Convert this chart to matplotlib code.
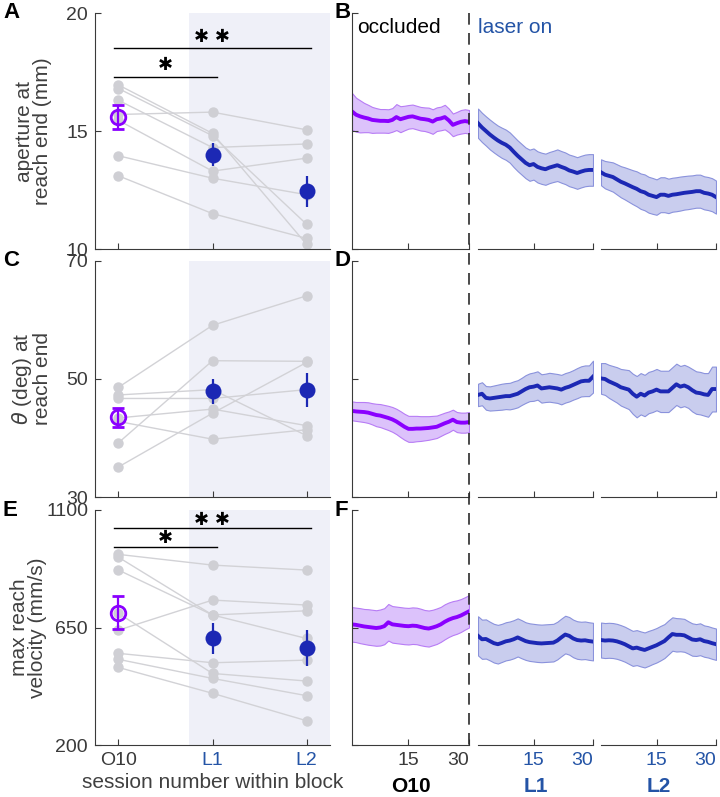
import numpy as np
import matplotlib
matplotlib.use("Agg")
import matplotlib.pyplot as plt
from matplotlib.lines import Line2D

plt.rcParams["font.family"] = ["Liberation Sans", "DejaVu Sans"]
plt.rcParams["font.size"] = 14

# ---------------- data ----------------
sessions = ["O10", "L1", "L2"]

# per-animal values, one list per session (same animal order)
aperture_o10 = [16.95, 16.8, 16.3, 15.7, 15.45, 13.95, 13.1]
aperture_l1 = [14.9, 14.8, 14.3, 15.8, 13.3, 13.0, 11.5]
aperture_l2 = [10.2, 11.05, 14.45, 15.05, 13.85, 12.3, 10.45]
aperture_mean = [15.6, 14.0, 12.45]
aperture_sem = [0.5, 0.48, 0.65]

theta_o10 = [48.6, 47.3, 46.7, 43.4, 42.8, 39.2, 35.1]
theta_l1 = [59.1, 48.2, 46.7, 44.9, 39.8, 53.1, 44.2]
theta_l2 = [64.1, 40.4, 48.2, 42.1, 41.4, 53.0, 52.8]
theta_mean = [43.5, 47.9, 48.2]
theta_sem = [1.6, 2.1, 2.9]

velocity_o10 = [930, 919, 870, 640, 704, 551, 528, 497]
velocity_l1 = [889, 698, 698, 755, 474, 515, 455, 398]
velocity_l2 = [870, 608, 714, 736, 445, 525, 389, 293]
velocity_mean = [707, 608, 572]
velocity_sem = [64, 60, 68]

# trial-by-trial traces within a session (mean and band half-width)
trial = list(range(1, 31))

ap_trace_o10 = [15.83, 15.69, 15.62, 15.57, 15.53, 15.47, 15.45, 15.43, 15.43, 15.42,
                15.47, 15.59, 15.50, 15.55, 15.60, 15.62, 15.57, 15.52, 15.50, 15.47,
                15.40, 15.50, 15.53, 15.59, 15.45, 15.26, 15.33, 15.39, 15.42, 15.39]
ap_band_o10 = [0.78, 0.72, 0.68, 0.62, 0.58, 0.55, 0.52, 0.50, 0.50, 0.50,
               0.50, 0.55, 0.55, 0.52, 0.50, 0.50, 0.50, 0.50, 0.50, 0.52,
               0.52, 0.50, 0.50, 0.52, 0.50, 0.48, 0.48, 0.50, 0.50, 0.50]
ap_trace_l1 = [15.33, 15.15, 15.0, 14.85, 14.72, 14.6, 14.5, 14.42, 14.3, 14.12,
               13.95, 13.8, 13.65, 13.55, 13.6, 13.48, 13.42, 13.38, 13.45, 13.5,
               13.55, 13.48, 13.42, 13.33, 13.28, 13.22, 13.28, 13.33, 13.35, 13.35]
ap_band_l1 = [0.62, 0.62, 0.62, 0.63, 0.63, 0.63, 0.64, 0.64, 0.64, 0.65,
              0.65, 0.65, 0.65, 0.66, 0.66, 0.66, 0.66, 0.66, 0.66, 0.66,
              0.67, 0.67, 0.67, 0.67, 0.67, 0.67, 0.67, 0.67, 0.67, 0.67]
ap_trace_l2 = [13.25, 13.15, 13.1, 13.05, 12.95, 12.85, 12.78, 12.7, 12.62, 12.55,
               12.45, 12.4, 12.3, 12.25, 12.2, 12.3, 12.3, 12.25, 12.3, 12.32,
               12.35, 12.38, 12.4, 12.42, 12.45, 12.45, 12.38, 12.35, 12.3, 12.2]
ap_band_l2 = [0.55, 0.58, 0.6, 0.62, 0.64, 0.66, 0.68, 0.7, 0.72, 0.74,
              0.75, 0.76, 0.76, 0.76, 0.75, 0.74, 0.74, 0.73, 0.72, 0.72,
              0.72, 0.71, 0.71, 0.7, 0.7, 0.7, 0.7, 0.7, 0.7, 0.7]

th_trace_o10 = [44.6, 44.5, 44.45, 44.4, 44.3, 44.1, 43.9, 43.8, 43.6, 43.4,
                43.15, 42.8, 42.35, 41.9, 41.55, 41.55, 41.6, 41.6, 41.65, 41.7,
                41.8, 41.9, 42.2, 42.5, 42.75, 43.1, 42.7, 42.6, 42.6, 42.7]
th_band_o10 = [1.6, 1.6, 1.65, 1.7, 1.75, 1.8, 1.9, 1.95, 2.0, 2.05,
               2.1, 2.15, 2.2, 2.2, 2.2, 2.2, 2.15, 2.1, 2.05, 2.0,
               1.95, 1.9, 1.85, 1.8, 1.75, 1.7, 1.7, 1.7, 1.7, 1.7]
th_trace_l1 = [47.3, 47.5, 46.8, 46.7, 46.8, 46.9, 47.0, 47.1, 47.1, 47.3,
               47.5, 47.9, 48.3, 48.6, 48.7, 48.9, 48.4, 48.5, 48.6, 48.5,
               48.4, 48.2, 48.5, 48.7, 49.0, 49.3, 49.6, 49.7, 49.7, 50.4]
th_band_l1 = [1.9, 1.95, 2.0, 2.05, 2.1, 2.15, 2.2, 2.2, 2.25, 2.3,
              2.3, 2.3, 2.35, 2.35, 2.4, 2.4, 2.4, 2.4, 2.45, 2.45,
              2.45, 2.5, 2.5, 2.5, 2.5, 2.55, 2.55, 2.6, 2.6, 2.7]
th_trace_l2 = [50.1, 50.0, 49.6, 49.3, 49.0, 48.6, 48.4, 48.2, 47.5, 47.0,
               47.5, 47.2, 47.7, 47.9, 48.2, 47.9, 47.9, 47.9, 48.5, 49.1,
               48.7, 48.9, 48.6, 48.1, 47.7, 47.6, 47.4, 47.3, 48.3, 48.3]
th_band_l2 = [2.6, 2.7, 2.8, 2.9, 3.0, 3.1, 3.2, 3.3, 3.4, 3.5,
              3.5, 3.5, 3.5, 3.5, 3.5, 3.5, 3.5, 3.5, 3.5, 3.5,
              3.5, 3.5, 3.5, 3.6, 3.6, 3.6, 3.6, 3.7, 3.8, 3.8]

vel_trace_o10 = [662, 660, 657, 654, 652, 650, 648, 650, 655, 670,
                 662, 660, 658, 656, 655, 657, 656, 652, 648, 646,
                 650, 655, 662, 672, 680, 686, 690, 696, 704, 712]
vel_band_o10 = [66, 66, 67, 67, 68, 68, 68, 69, 69, 70,
                70, 70, 70, 70, 70, 70, 70, 70, 69, 69,
                68, 68, 67, 67, 66, 65, 64, 63, 62, 62]
vel_trace_l1 = [618, 605, 606, 598, 590, 586, 591, 597, 600, 605,
                612, 605, 598, 594, 592, 590, 589, 590, 591, 592,
                600, 612, 623, 618, 608, 602, 600, 601, 598, 596]
vel_band_l1 = [75, 75, 75, 74, 74, 74, 73, 73, 73, 73,
               73, 73, 72, 72, 72, 72, 72, 72, 72, 72,
               72, 72, 72, 72, 72, 72, 72, 72, 72, 72]
vel_trace_l2 = [602, 600, 601, 600, 597, 592, 586, 578, 570, 573,
                568, 564, 570, 576, 582, 590, 598, 612, 625, 622,
                622, 620, 612, 604, 602, 605, 598, 595, 590, 586]
vel_band_l2 = [67, 67, 67, 67, 67, 67, 67, 67, 67, 67,
               67, 67, 67, 66, 66, 66, 65, 65, 64, 64,
               63, 63, 62, 62, 61, 61, 60, 60, 60, 60]

# ---------------- styles ----------------
PURPLE = "#8a00ff"
PURPLE_FILL = "#dcc2fb"
BLUE = "#1c28b4"
BLUE_FILL = "#c9cdee"
BLUE_EDGE = "#8a92dc"
TEXT_BLUE = "#2454a6"
SHADE = "#eff0f8"
DOT_GRAY = "#cfcfd4"
LINE_GRAY = "#d2d2d6"
AX_GRAY = "#3a3a3a"
LABEL_GRAY = "#404040"
STAR = "\u2731"

W, H = 720, 797
fig = plt.figure(figsize=(W / 100, H / 100), dpi=100)


def px_axes(x0, y0, x1, y1):
    return fig.add_axes([x0 / W, 1 - y1 / H, (x1 - x0) / W, (y1 - y0) / H])


def style(ax, left=True):
    for s in ("top", "right"):
        ax.spines[s].set_visible(False)
    ax.spines["left"].set_visible(left)
    for s in ("left", "bottom"):
        ax.spines[s].set_color(AX_GRAY)
        ax.spines[s].set_linewidth(0.8)
    ax.tick_params(direction="in", length=4, width=0.8, color=AX_GRAY,
                   labelcolor=AX_GRAY, labelsize=14, pad=5)
    if not left:
        ax.set_yticks([])


rows = [
    dict(vals=[aperture_o10, aperture_l1, aperture_l2], mean=aperture_mean, sem=aperture_sem,
         ylim=(10, 20), yticks=[10, 15, 20], ylabel="aperture at\nreach end (mm)",
         traces=[(ap_trace_o10, ap_band_o10), (ap_trace_l1, ap_band_l1), (ap_trace_l2, ap_band_l2)],
         sig=[(18.5, 19.0, 17.3, 17.8)], top=13, bot=249, lx=52, letters="AB"),
    dict(vals=[theta_o10, theta_l1, theta_l2], mean=theta_mean, sem=theta_sem,
         ylim=(30, 70), yticks=[30, 50, 70], ylabel="$\\theta$ (deg) at\nreach end",
         traces=[(th_trace_o10, th_band_o10), (th_trace_l1, th_band_l1), (th_trace_l2, th_band_l2)],
         sig=[], top=261, bot=497, lx=52, letters="CD"),
    dict(vals=[velocity_o10, velocity_l1, velocity_l2], mean=velocity_mean, sem=velocity_sem,
         ylim=(200, 1100), yticks=[200, 650, 1100], ylabel="max reach\nvelocity (mm/s)",
         traces=[(vel_trace_o10, vel_band_o10), (vel_trace_l1, vel_band_l1), (vel_trace_l2, vel_band_l2)],
         sig=[(1030, 1062, 960, 991)], top=510, bot=745, lx=47, letters="EF"),
]

right_x = [(352, 469), (478, 593), (601, 716)]

for r, row in enumerate(rows):
    last = r == len(rows) - 1
    ax = px_axes(95, row["top"], 330, row["bot"])
    ax.axvspan(1.75, 3.25, color=SHADE, lw=0, zorder=0)
    arr = np.array(row["vals"])
    for animal in arr.T:
        ax.plot([1, 2, 3], animal, color=LINE_GRAY, lw=1.0, zorder=1)
    for i in range(3):
        ax.plot(np.full(arr.shape[1], i + 1), arr[i], "o", ms=7.5, color=DOT_GRAY, mew=0, zorder=2)
    m, e = row["mean"], row["sem"]
    ax.errorbar([1], m[:1], e[:1], fmt="o", ms=10.5, mfc="none", mec=PURPLE, mew=2.0,
                ecolor=PURPLE, elinewidth=1.6, capsize=4.5, capthick=1.6, zorder=4)
    ax.errorbar([2, 3], m[1:], e[1:], fmt="o", ms=11.5, color=BLUE, mew=0,
                ecolor=BLUE, elinewidth=1.6, capsize=5, capthick=1.6, zorder=4)
    for y1, s1, y2, s2 in row["sig"]:
        ax.plot([0.95, 3.05], [y1, y1], color="black", lw=1.0, zorder=3)
        ax.text(2, s1, STAR + " " + STAR, ha="center", va="center", fontsize=13, zorder=3,
                family=["DejaVu Sans"])
        ax.plot([0.95, 2.05], [y2, y2], color="black", lw=1.0, zorder=3)
        ax.text(1.5, s2, STAR, ha="center", va="center", fontsize=13, zorder=3,
                family=["DejaVu Sans"])
    ax.set_xlim(0.75, 3.25)
    ax.set_ylim(*row["ylim"])
    ax.set_yticks(row["yticks"])
    ax.set_xticks([1, 2, 3])
    style(ax)
    if last:
        ax.set_xticklabels(sessions)
        for lab, c in zip(ax.get_xticklabels(), [AX_GRAY, TEXT_BLUE, TEXT_BLUE]):
            lab.set_color(c)
        ax.set_xlabel("session number within block", color=LABEL_GRAY, fontsize=15, labelpad=3)
    else:
        ax.set_xticklabels([])
    ax.set_ylabel(row["ylabel"], color=LABEL_GRAY, fontsize=15, linespacing=0.95)
    ax.yaxis.set_label_coords((row["lx"] - 95) / 235, 0.5)

    # trial-by-trial panels
    for b, ((x0, x1), (tr, band)) in enumerate(zip(right_x, row["traces"])):
        rax = px_axes(x0, row["top"], x1, row["bot"])
        tr = np.array(tr)
        band = np.array(band)
        if b == 0:
            fc, ec, lc = PURPLE_FILL, "#b77cf5", PURPLE
        else:
            fc, ec, lc = BLUE_FILL, BLUE_EDGE, BLUE
        rax.fill_between(trial, tr - band, tr + band, facecolor=fc, edgecolor=ec, lw=0.8, zorder=1)
        rax.plot(trial, tr, color=lc, lw=2.8, zorder=2)
        rax.set_xlim(1, 30)
        rax.set_ylim(*row["ylim"])
        rax.set_xticks([15, 30])
        style(rax, left=(b == 0))
        if b == 0:
            rax.set_yticks(row["yticks"])
            rax.set_yticklabels([])
        if last:
            rax.set_xticklabels(["15", "30"])
            tc = AX_GRAY if b == 0 else TEXT_BLUE
            labs = rax.get_xticklabels()
            for lab in labs:
                lab.set_color(tc)
            labs[1].set_horizontalalignment("right")
            rax.set_xlabel(sessions[b], fontsize=15, fontweight="bold",
                           color="black" if b == 0 else TEXT_BLUE, labelpad=6)
        else:
            rax.set_xticklabels([])
        if r == 0 and b == 0:
            rax.text(0.04, 0.94, "occluded", transform=rax.transAxes, ha="left", va="center",
                     fontsize=15, color="black")
        if r == 0 and b == 1:
            rax.text(0.0, 0.94, "laser on", transform=rax.transAxes, ha="left", va="center",
                     fontsize=15, color=TEXT_BLUE)

    # panel letters
    fig.text(3 / W, 1 - (row["top"]) / H, row["letters"][0], fontsize=16, fontweight="bold",
             ha="left", va="center")
    fig.text(334 / W, 1 - (row["top"]) / H, row["letters"][1], fontsize=16, fontweight="bold",
             ha="left", va="center")

# dashed separator between occluded and laser-on blocks
fig.add_artist(Line2D([469 / W, 469 / W], [1 - 13 / H, 1 - 745 / H], transform=fig.transFigure,
                      color="#2a2a2a", lw=1.2, dashes=(7, 5)))

fig.savefig("out.png", dpi=100)
